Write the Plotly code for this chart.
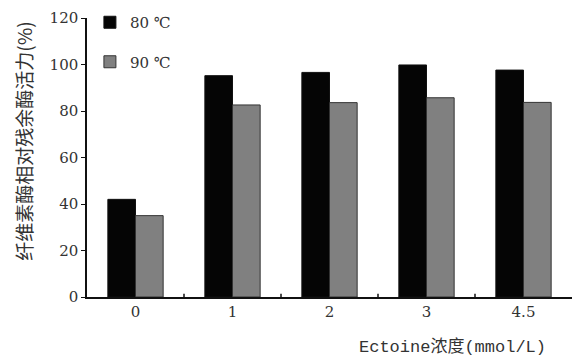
import plotly.graph_objects as go

categories = ["0", "1", "2", "3", "4.5"]
activity_80 = [42, 95.2, 96.6, 99.8, 97.6]
activity_90 = [35, 82.6, 83.6, 85.7, 83.7]
series_names = ["80 ℃", "90 ℃"]
y_ticks = [0, 20, 40, 60, 80, 100, 120]

serif = "DejaVu Serif, Liberation Serif, serif"
txt = "#333333"

fig = go.Figure()
fig.add_trace(go.Bar(x=categories, y=activity_80, name=series_names[0], legendgroup="a",
                     marker=dict(color="#050505", line=dict(color="#111111", width=1))))
fig.add_trace(go.Bar(x=categories, y=activity_90, name=series_names[1], legendgroup="b",
                     marker=dict(color="#808080", line=dict(color="#333333", width=1))))

fig.update_layout(
    width=572, height=359,
    margin=dict(l=87, r=0, t=18, b=62, autoexpand=False),
    paper_bgcolor="white", plot_bgcolor="white",
    barmode="group", bargap=0.43, bargroupgap=0,
    showlegend=True,
    legend=dict(x=0.006, y=1.043, xanchor="left", yanchor="top",
                font=dict(family=serif, size=15, color=txt),
                traceorder="grouped", tracegroupgap=17,
                bgcolor="rgba(0,0,0,0)"),
    xaxis=dict(type="category", range=[-0.5, 4.5],
               showline=True, linecolor="#111111", linewidth=1.5,
               ticks="", showgrid=False, zeroline=False,
               tickfont=dict(family=serif, size=15, color=txt)),
    yaxis=dict(range=[0, 120], tickvals=y_ticks, showline=True, linecolor="#111111",
               linewidth=1.5, ticks="outside", ticklen=4, tickcolor="#111111",
               showgrid=False, zeroline=False,
               tickfont=dict(family=serif, size=15, color=txt)),
    annotations=[
        dict(text="纤维素酶相对残余酶活力(%)", xref="paper", yref="paper",
             x=-0.13, y=0.56, xanchor="center", yanchor="middle", textangle=-90,
             showarrow=False, font=dict(family="Noto Sans CJK SC", size=19, color=txt)),
        dict(text="Ectoine浓度(mmol/L)", xref="paper", yref="paper",
             x=0.95, y=-0.18, xanchor="right", yanchor="middle", showarrow=False,
             font=dict(family="Liberation Mono, Noto Sans CJK SC", size=17, color=txt)),
    ],
)

# boundary ticks between categories (inside, small)
for i in range(len(categories) - 1):
    fig.add_shape(type="line", xref="x", yref="paper", x0=i + 0.5, x1=i + 0.5,
                  y0=0, y1=0.012, line=dict(color="#111111", width=1.5))

fig.write_html("out.html", config={"displayModeBar": False},
               post_script="document.body.style.margin='0';document.body.style.padding='0';")
